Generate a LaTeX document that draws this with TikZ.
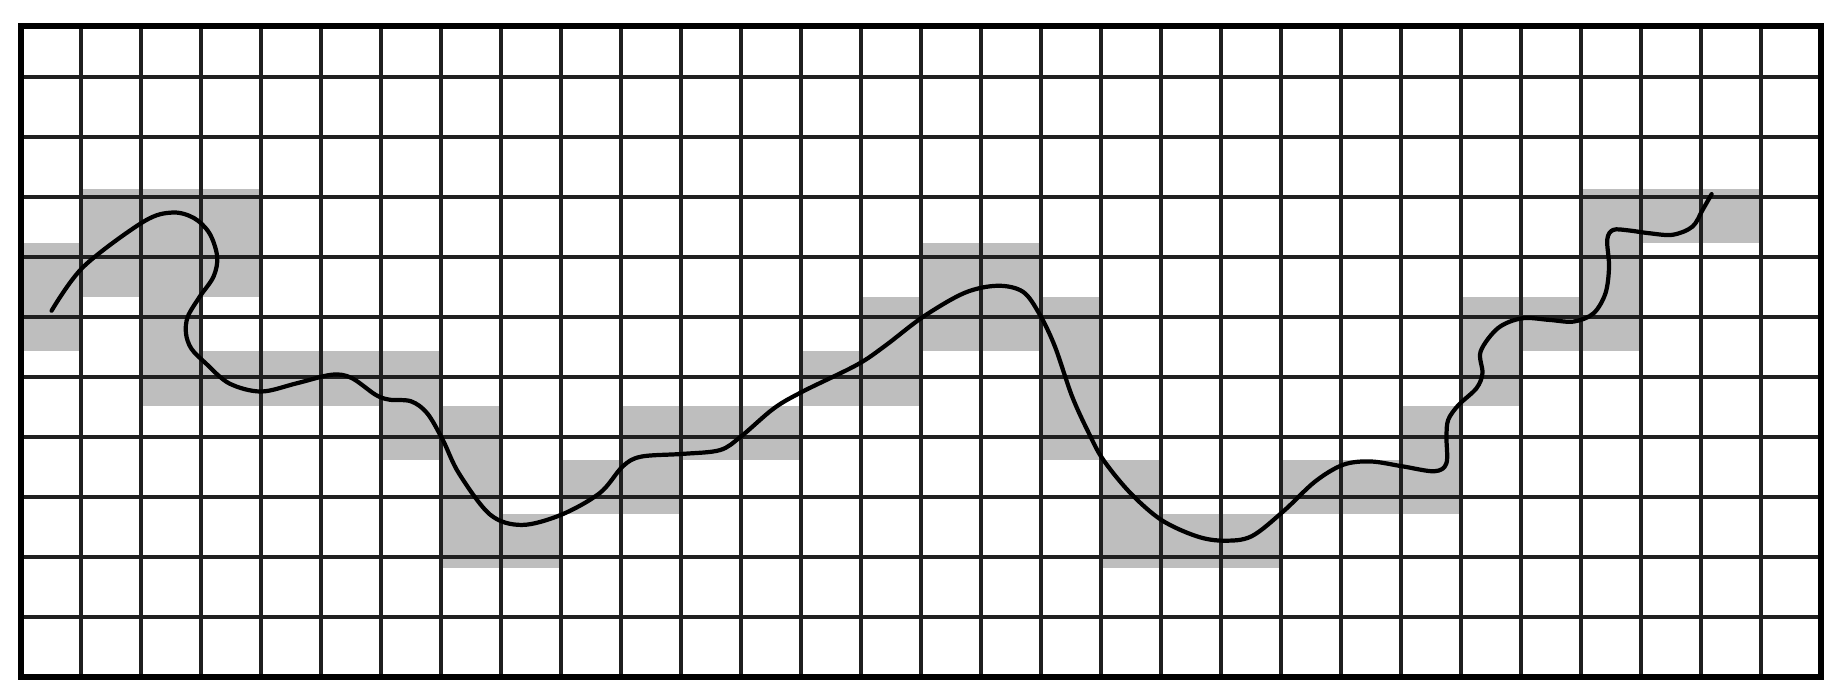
\documentclass[tikz,border=0pt]{standalone}
\definecolor{cellgray}{RGB}{190,190,190}
\begin{document}
\begin{tikzpicture}[x=1cm,y=0.904cm,
  gridline/.style={line width=1.8pt, black!88},
  frameline/.style={line width=3pt, black},
  curveline/.style={line width=2pt, black, line cap=round, line join=round},
  cellfill/.style={fill=cellgray}]
\useasboundingbox (-0.35,-0.387) rectangle (30.37,12.479);
% shaded cells (column, row counted from top)
\foreach \c/\r in {1/3,2/3,3/3,26/3,27/3,28/3,
  0/4,1/4,2/4,3/4,15/4,16/4,26/4,
  0/5,2/5,14/5,15/5,16/5,17/5,24/5,25/5,26/5,
  2/6,3/6,4/6,5/6,6/6,13/6,14/6,17/6,24/6,
  6/7,7/7,10/7,11/7,12/7,17/7,23/7,
  7/8,9/8,10/8,18/8,21/8,22/8,23/8,
  7/9,8/9,18/9,19/9,20/9}
  \path[cellfill] (\c,{11-\r}) rectangle ++(1,1);
\draw[gridline] (0,0) grid (30,12);
\draw[frameline] (0,0) rectangle (30,12);
\draw[curveline] plot[smooth, tension=0.55] coordinates {
(0.51,6.75) (1.04,7.56) (2.04,8.39) (2.52,8.56) (2.88,8.46) (3.14,8.18)
(3.27,7.75) (3.21,7.38) (2.98,7.01) (2.78,6.64) (2.75,6.33) (2.84,6.05)
(3.08,5.78) (3.47,5.41) (4.0,5.26) (4.59,5.41) (5.18,5.57) (5.51,5.51)
(5.91,5.20) (6.14,5.11) (6.5,5.08) (6.77,4.86) (7.03,4.37) (7.30,3.75)
(7.82,2.99) (8.35,2.80) (9.01,2.99) (9.65,3.39) (10.03,3.88) (10.34,4.06)
(11.03,4.11) (11.65,4.18) (12.0,4.43) (12.55,4.95) (13.03,5.26) (13.93,5.75)
(14.4,6.1) (15.04,6.64) (15.73,7.08) (16.28,7.21) (16.70,7.10) (16.97,6.70)
(17.23,6.1) (17.52,5.17) (17.80,4.49) (18.04,4.0) (18.49,3.39) (19.01,2.89)
(19.60,2.59) (20.05,2.51) (20.51,2.59) (21.04,3.05) (21.57,3.60) (22.04,3.91)
(22.5,3.97) (23.03,3.88) (23.56,3.79) (23.76,3.94) (23.76,4.43) (23.79,4.74)
(23.96,5.01) (24.26,5.32) (24.36,5.60) (24.33,6.0) (24.62,6.43) (25.02,6.61)
(25.48,6.58) (25.88,6.55) (26.21,6.70) (26.41,7.07) (26.47,7.56) (26.44,8.06)
(26.54,8.24) (26.8,8.23) (27.13,8.18) (27.53,8.15) (27.86,8.30) (28.03,8.61)
(28.18,8.90)};
\end{tikzpicture}
\end{document}
